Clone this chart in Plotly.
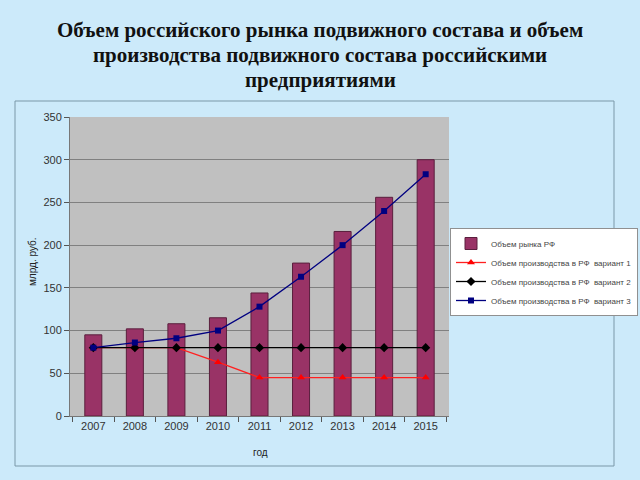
import plotly.graph_objects as go

years = ["2007", "2008", "2009", "2010", "2011", "2012", "2013", "2014", "2015"]
market = [95, 102, 108, 115, 144, 179, 216, 256, 300]
var1 = [80, 80, 80, 63, 45, 45, 45, 45, 45]
var2 = [80, 80, 80, 80, 80, 80, 80, 80, 80]
var3 = [80, 86, 91, 100, 128, 163, 200, 240, 283]

names = ["Объем рынка РФ",
         "Объем производства в РФ  вариант 1",
         "Объем производства в РФ  вариант 2",
         "Объем производства в РФ  вариант 3"]
title_lines = ["Объем российского рынка подвижного состава и объем",
               "производства подвижного состава российскими",
               "предприятиями"]

fig = go.Figure()
fig.add_trace(go.Bar(x=years, y=market, name=names[0],
                     marker=dict(color="#993366", line=dict(color="#5a1f3d", width=1))))
fig.add_trace(go.Scatter(x=years, y=var1, name=names[1], mode="lines+markers",
                         line=dict(color="#ff2020", width=1.3),
                         marker=dict(symbol="triangle-up", size=7, color="#ff0000")))
fig.add_trace(go.Scatter(x=years, y=var2, name=names[2], mode="lines+markers",
                         line=dict(color="#000000", width=1.3),
                         marker=dict(symbol="diamond", size=7, color="#000000")))
fig.add_trace(go.Scatter(x=years, y=var3, name=names[3], mode="lines+markers",
                         line=dict(color="#000080", width=1.3),
                         marker=dict(symbol="square", size=6, color="#000080")))

annotations = []
for i, line in enumerate(title_lines):
    annotations.append(dict(text="<b>" + line + "</b>", xref="paper", yref="paper",
                            x=(320 - 70) / 379, y=(416 - (30 + 25 * i)) / 299,
                            showarrow=False, xanchor="center", yanchor="middle",
                            font=dict(family="Liberation Serif", size=21, color="#111111")))
annotations += [
    dict(text="млрд. руб.", xref="paper", yref="paper",
         x=(32 - 70) / 379, y=(416 - 262) / 299, textangle=-90, showarrow=False,
         font=dict(family="Liberation Sans", size=10, color="#222222"),
         xanchor="center", yanchor="middle"),
    dict(text="год", xref="paper", yref="paper",
         x=(260 - 70) / 379, y=(416 - 452) / 299, showarrow=False,
         font=dict(family="Liberation Sans", size=10, color="#222222"),
         xanchor="center", yanchor="middle"),
]

fig.update_layout(
    width=640, height=480,
    margin=dict(l=70, r=191, t=117, b=64, autoexpand=False),
    paper_bgcolor="#cceafa",
    plot_bgcolor="#c0c0c0",
    bargap=0.59,
    font=dict(family="Liberation Sans", size=11, color="#333333"),
    showlegend=True,
    legend=dict(x=(450 - 70) / 379, y=(416 - 228) / 299, xanchor="left", yanchor="top",
                bgcolor="#ffffff", bordercolor="#909090", borderwidth=1,
                font=dict(family="Liberation Sans", size=8, color="#444444"),
                tracegroupgap=0),
    xaxis=dict(type="category", showgrid=False, ticks="outside", tickson="boundaries",
               ticklen=5, tickcolor="#555555", showline=True, linecolor="#777777",
               tickfont=dict(size=11, color="#333333")),
    yaxis=dict(range=[0, 350], dtick=50, showgrid=True, gridcolor="#808080", gridwidth=1,
               ticks="outside", ticklen=5, tickcolor="#555555", showline=True,
               linecolor="#777777", zeroline=False,
               tickfont=dict(size=11, color="#333333")),
    annotations=annotations,
    shapes=[dict(type="rect", xref="paper", yref="paper",
                 x0=(15 - 70) / 379, x1=(614 - 70) / 379,
                 y0=(416 - 466) / 299, y1=(416 - 101) / 299,
                 line=dict(color="#7a98a8", width=1), layer="below")],
)

fig.write_html("out.html")
